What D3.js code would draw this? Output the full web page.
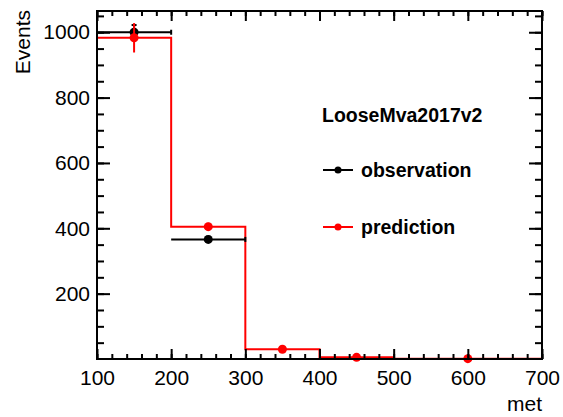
<!DOCTYPE html>
<html>
<head>
<meta charset="utf-8">
<script src="https://cdn.jsdelivr.net/npm/d3@7"></script>
<style>
  body { margin: 0; background: #fff; }
  svg { display: block; }
  text { font-family: "Liberation Sans", Arial, Helvetica, sans-serif; }
</style>
</head>
<body>
<script>
// bins of met
var binEdges = [100, 200, 300, 400, 500, 700];
var predValues = [983, 405, 30, 5, 1];
var predErrors = [45, 12, 4, 2, 1];
var obsCenters = [150, 250];
var obsValues = [1000, 366];
var obsErrors = [22, 8];
var obsHalfWidths = [50, 50];
var xTicks = [100, 200, 300, 400, 500, 600, 700];
var yTicks = [200, 400, 600, 800, 1000];
var legendTitle = 'LooseMva2017v2';
var legendEntries = [
	{label: 'observation', color: '#000000'},
	{label: 'prediction', color: '#ff0000'}
];

var W = 563, H = 417;
var margin = {top: 11, right: 21, bottom: 58, left: 97};
var fw = W - margin.left - margin.right;
var fh = H - margin.top - margin.bottom;

var svg = d3.select('body').append('svg')
	.attr('width', W)
	.attr('height', H);

var x = d3.scaleLinear().domain([100, 700]).range([0, fw]);
var y = d3.scaleLinear().domain([0, 1065]).range([fh, 0]);

var frame = svg.append('g')
	.attr('transform', 'translate(' + margin.left + ',' + margin.top + ')');

svg.append('defs').append('clipPath').attr('id', 'fclip')
	.append('rect').attr('x', 0).attr('y', 0).attr('width', fw).attr('height', fh);

/*
/	PREDICTION HISTOGRAM (step)
*/
var predCenters = binEdges.slice(0, -1).map(function(e, i){ return (e + binEdges[i+1]) / 2; });
var stepPts = [[binEdges[0], 0]];
predValues.forEach(function(v, i){
	stepPts.push([binEdges[i], v]);
	stepPts.push([binEdges[i+1], v]);
});
stepPts.push([binEdges[binEdges.length-1], 0]);

frame.append('path')
	.attr('clip-path', 'url(#fclip)')
	.attr('d', d3.line().x(function(d){ return x(d[0]); }).y(function(d){ return y(d[1]); })(stepPts))
	.attr('fill', 'none')
	.attr('stroke', '#ff0000')
	.attr('stroke-width', 2);

/*
/	OBSERVATION POINTS
*/
var obs = obsCenters.map(function(c, i){
	return {x: c, v: obsValues[i], e: obsErrors[i], hw: obsHalfWidths[i]};
});
var obsG = frame.append('g');
obsG.selectAll('.hx').data(obs).enter().append('line')
	.attr('x1', function(d){ return x(d.x - d.hw); })
	.attr('x2', function(d){ return x(d.x + d.hw); })
	.attr('y1', function(d){ return y(d.v); })
	.attr('y2', function(d){ return y(d.v); })
	.attr('stroke', '#000').attr('stroke-width', 2);
obsG.selectAll('.cap').data(obs).enter().append('line')
	.attr('x1', function(d){ return x(d.x + d.hw); })
	.attr('x2', function(d){ return x(d.x + d.hw); })
	.attr('y1', function(d){ return y(d.v) - 2.5; })
	.attr('y2', function(d){ return y(d.v) + 2.5; })
	.attr('stroke', '#000').attr('stroke-width', 2);
obsG.selectAll('.vy').data(obs).enter().append('line')
	.attr('x1', function(d){ return x(d.x); })
	.attr('x2', function(d){ return x(d.x); })
	.attr('y1', function(d){ return y(d.v + d.e); })
	.attr('y2', function(d){ return y(d.v - d.e); })
	.attr('stroke', '#000').attr('stroke-width', 2);
obsG.selectAll('.vcap').data(obs).enter().append('line')
	.attr('x1', function(d){ return x(d.x) - 2.5; })
	.attr('x2', function(d){ return x(d.x) + 2.5; })
	.attr('y1', function(d){ return y(d.v + d.e); })
	.attr('y2', function(d){ return y(d.v + d.e); })
	.attr('stroke', '#000').attr('stroke-width', 2);
obsG.selectAll('circle').data(obs).enter().append('circle')
	.attr('cx', function(d){ return x(d.x); })
	.attr('cy', function(d){ return y(d.v); })
	.attr('r', 4.5)
	.attr('fill', '#000');

/*
/	PREDICTION POINTS
*/
var pred = predCenters.map(function(c, i){
	return {x: c, v: predValues[i], e: predErrors[i]};
});
var predG = frame.append('g');
predG.selectAll('line').data(pred).enter().append('line')
	.attr('x1', function(d){ return x(d.x); })
	.attr('x2', function(d){ return x(d.x); })
	.attr('y1', function(d){ return y(d.v + d.e); })
	.attr('y2', function(d){ return y(Math.max(d.v - d.e, 0)); })
	.attr('stroke', '#ff0000').attr('stroke-width', 2);
predG.selectAll('circle').data(pred).enter().append('circle')
	.attr('cx', function(d){ return x(d.x); })
	.attr('cy', function(d){ return y(d.v); })
	.attr('r', 4.5)
	.attr('fill', '#ff0000');

/*
/	AXES (ROOT style, ticks inside on all four sides)
*/
var xMinor = d3.range(100, 701, 20);
var yMinor = d3.range(50, 1065, 50);

function styleAxis(g){
	g.selectAll('.domain').remove();
	g.selectAll('line').attr('stroke', '#000').attr('stroke-width', 2);
	g.selectAll('text').attr('font-size', '21px').attr('fill', '#000');
}

frame.append('g').attr('transform', 'translate(0,' + fh + ')')
	.call(d3.axisBottom(x).tickValues(xMinor).tickSize(-5).tickFormat(''))
	.call(styleAxis);
frame.append('g').attr('transform', 'translate(0,' + fh + ')')
	.call(d3.axisBottom(x).tickValues(xTicks).tickSize(-10).tickPadding(11).tickFormat(d3.format('d')))
	.call(styleAxis);
frame.append('g')
	.call(d3.axisTop(x).tickValues(xMinor).tickSize(-5).tickFormat(''))
	.call(styleAxis);
frame.append('g')
	.call(d3.axisTop(x).tickValues(xTicks).tickSize(-10).tickFormat(''))
	.call(styleAxis);

frame.append('g')
	.call(d3.axisLeft(y).tickValues(yMinor).tickSize(-7).tickFormat(''))
	.call(styleAxis);
frame.append('g')
	.call(d3.axisLeft(y).tickValues(yTicks).tickSize(-13).tickPadding(7).tickFormat(d3.format('d')))
	.call(styleAxis);
frame.append('g').attr('transform', 'translate(' + fw + ',0)')
	.call(d3.axisRight(y).tickValues(yMinor).tickSize(-7).tickFormat(''))
	.call(styleAxis);
frame.append('g').attr('transform', 'translate(' + fw + ',0)')
	.call(d3.axisRight(y).tickValues(yTicks).tickSize(-13).tickFormat(''))
	.call(styleAxis);

frame.append('rect')
	.attr('x', 0).attr('y', 0)
	.attr('width', fw).attr('height', fh)
	.attr('fill', 'none')
	.attr('stroke', '#000')
	.attr('stroke-width', 2);

/*
/	AXIS TITLES
*/
svg.append('text')
	.attr('x', margin.left + fw)
	.attr('y', 411)
	.attr('text-anchor', 'end')
	.attr('font-size', '21px')
	.text('met');

svg.append('text')
	.attr('transform', 'translate(30,10) rotate(-90)')
	.attr('text-anchor', 'end')
	.attr('font-size', '21px')
	.text('Events');

/*
/	LEGEND
*/
var legend = svg.append('g');
legend.append('text')
	.attr('x', 322)
	.attr('y', 122)
	.attr('font-size', '19.5px')
	.attr('font-weight', 'bold')
	.text(legendTitle);

var entries = legend.selectAll('.entry').data(legendEntries).enter().append('g')
	.attr('transform', function(d, i){ return 'translate(0,' + (170 + i * 57) + ')'; });
entries.append('line')
	.attr('x1', 323).attr('x2', 353)
	.attr('y1', 0).attr('y2', 0)
	.attr('stroke', function(d){ return d.color; })
	.attr('stroke-width', 2);
entries.append('circle')
	.attr('cx', 338).attr('cy', 0).attr('r', 3.5)
	.attr('fill', function(d){ return d.color; });
entries.append('text')
	.attr('x', 361).attr('y', 7)
	.attr('font-size', '19.5px')
	.attr('font-weight', 'bold')
	.text(function(d){ return d.label; });
</script>
</body>
</html>
